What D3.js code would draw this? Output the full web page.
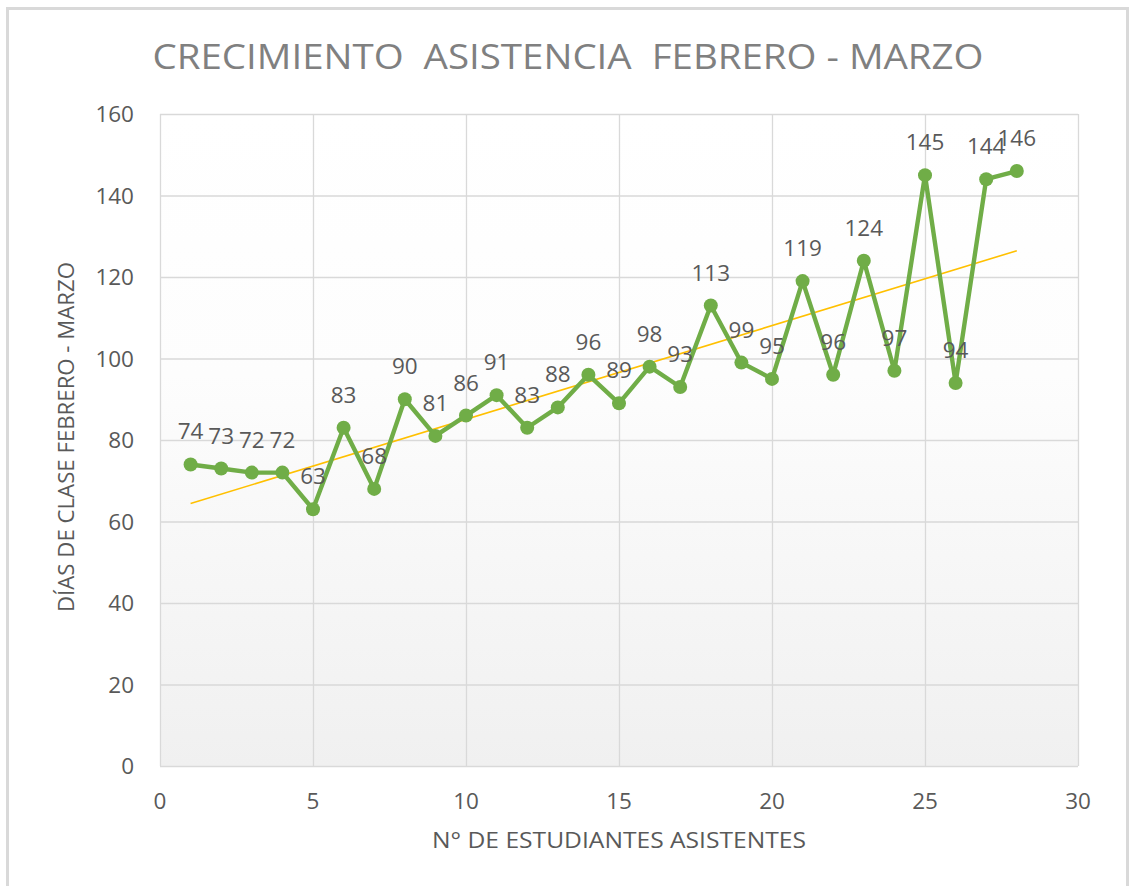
<!DOCTYPE html>
<html>
<head>
<meta charset="utf-8">
<script src="https://cdn.jsdelivr.net/npm/d3@7"></script>
<style>
  body { margin: 0; background: #fff; }
  text { font-family: "Open Sans", "DejaVu Sans", sans-serif; }
</style>
</head>
<body>
<svg id="chart" width="1136" height="886"></svg>
<script>
// data
const estudiantes = [1, 2, 3, 4, 5, 6, 7, 8, 9, 10, 11, 12, 13, 14, 15, 16, 17, 18, 19, 20, 21, 22, 23, 24, 25, 26, 27, 28];
const dias = [74, 73, 72, 72, 63, 83, 68, 90, 81, 86, 91, 83, 88, 96, 89, 98, 93, 113, 99, 95, 119, 96, 124, 97, 145, 94, 144, 146];
const xTicks = [0, 5, 10, 15, 20, 25, 30];
const yTicks = [0, 20, 40, 60, 80, 100, 120, 140, 160];

const titleText = "CRECIMIENTO  ASISTENCIA  FEBRERO - MARZO";
const xTitle = "N° DE ESTUDIANTES ASISTENTES";
const yTitle = "DÍAS DE CLASE FEBRERO - MARZO";

const svg = d3.select("#chart");
const plotLeft = 160, plotRight = 1078, plotTop = 114, plotBottom = 766;

const xScale = d3.scaleLinear().domain([0, 30]).range([plotLeft, plotRight]);
const yScale = d3.scaleLinear().domain([0, 160]).range([plotBottom, plotTop]);

// outer chart border (bottom edge is cut off in the picture)
svg.append("path")
  .attr("d", `M7.5,886 V8.5 H1127.5 V886`)
  .attr("fill", "none")
  .attr("stroke", "#d9d9d9")
  .attr("stroke-width", 3);

// plot area gradient
const defs = svg.append("defs");
const grad = defs.append("linearGradient")
  .attr("id", "plotGrad")
  .attr("x1", 0).attr("y1", 0).attr("x2", 0).attr("y2", 1);
grad.append("stop").attr("offset", "0%").attr("stop-color", "#ffffff");
grad.append("stop").attr("offset", "40%").attr("stop-color", "#fdfdfd");
grad.append("stop").attr("offset", "100%").attr("stop-color", "#f0f0f0");

svg.append("rect")
  .attr("x", plotLeft).attr("y", plotTop)
  .attr("width", plotRight - plotLeft).attr("height", plotBottom - plotTop)
  .attr("fill", "url(#plotGrad)");

// gridlines
svg.append("g")
  .selectAll("line")
  .data(yTicks)
  .join("line")
  .attr("x1", plotLeft).attr("x2", plotRight)
  .attr("y1", d => yScale(d) + 0.5).attr("y2", d => yScale(d) + 0.5)
  .attr("stroke", "#d9d9d9")
  .attr("stroke-width", 1.3);

svg.append("g")
  .selectAll("line")
  .data(xTicks)
  .join("line")
  .attr("x1", d => xScale(d) + 0.5).attr("x2", d => xScale(d) + 0.5)
  .attr("y1", plotTop).attr("y2", plotBottom)
  .attr("stroke", "#d9d9d9")
  .attr("stroke-width", 1.3);

// tick labels
svg.append("g")
  .selectAll("text")
  .data(yTicks)
  .join("text")
  .attr("x", 134)
  .attr("y", d => yScale(d))
  .attr("dy", "0.36em")
  .attr("text-anchor", "end")
  .attr("fill", "#595959")
  .style("font-size", "22.5px")
  .text(d => d);

svg.append("g")
  .selectAll("text")
  .data(xTicks)
  .join("text")
  .attr("x", d => xScale(d))
  .attr("y", 809)
  .attr("text-anchor", "middle")
  .attr("fill", "#595959")
  .style("font-size", "22.5px")
  .text(d => d);

// trendline (least squares fit of the series)
const mx = d3.mean(estudiantes), my = d3.mean(dias);
const slope = d3.sum(estudiantes, (x, i) => (x - mx) * (dias[i] - my)) /
  d3.sum(estudiantes, x => (x - mx) * (x - mx));
const intercept = my - slope * mx;
const xEnds = d3.extent(estudiantes);

svg.append("line")
  .attr("x1", xScale(xEnds[0])).attr("y1", yScale(intercept + slope * xEnds[0]))
  .attr("x2", xScale(xEnds[1])).attr("y2", yScale(intercept + slope * xEnds[1]))
  .attr("stroke", "#ffc000")
  .attr("stroke-width", 1.6);

// series line
const pts = estudiantes.map((x, i) => [x, dias[i]]);
const line = d3.line().x(d => xScale(d[0])).y(d => yScale(d[1]));

svg.append("path")
  .datum(pts)
  .attr("d", line)
  .attr("fill", "none")
  .attr("stroke", "#70ad47")
  .attr("stroke-width", 4.4)
  .attr("stroke-linejoin", "round");

svg.append("g")
  .selectAll("circle")
  .data(pts)
  .join("circle")
  .attr("cx", d => xScale(d[0]))
  .attr("cy", d => yScale(d[1]))
  .attr("r", 7)
  .attr("fill", "#70ad47");

// data labels
svg.append("g")
  .selectAll("text")
  .data(pts)
  .join("text")
  .attr("x", d => xScale(d[0]))
  .attr("y", d => yScale(d[1]) - 25)
  .attr("text-anchor", "middle")
  .attr("fill", "#595959")
  .style("font-size", "22.5px")
  .text(d => d[1]);

// titles
svg.append("text")
  .attr("x", 568)
  .attr("y", 69)
  .attr("text-anchor", "middle")
  .attr("fill", "#808080")
  .style("font-size", "34px")
  .style("white-space", "pre")
  .attr("textLength", 831)
  .attr("lengthAdjust", "spacingAndGlyphs")
  .text(titleText);

svg.append("text")
  .attr("x", 619)
  .attr("y", 848)
  .attr("text-anchor", "middle")
  .attr("fill", "#595959")
  .style("font-size", "22px")
  .attr("textLength", 374)
  .attr("lengthAdjust", "spacingAndGlyphs")
  .text(xTitle);

svg.append("text")
  .attr("transform", "translate(74,437) rotate(-90)")
  .attr("text-anchor", "middle")
  .attr("fill", "#595959")
  .style("font-size", "22px")
  .attr("textLength", 350)
  .attr("lengthAdjust", "spacingAndGlyphs")
  .text(yTitle);
</script>
</body>
</html>
